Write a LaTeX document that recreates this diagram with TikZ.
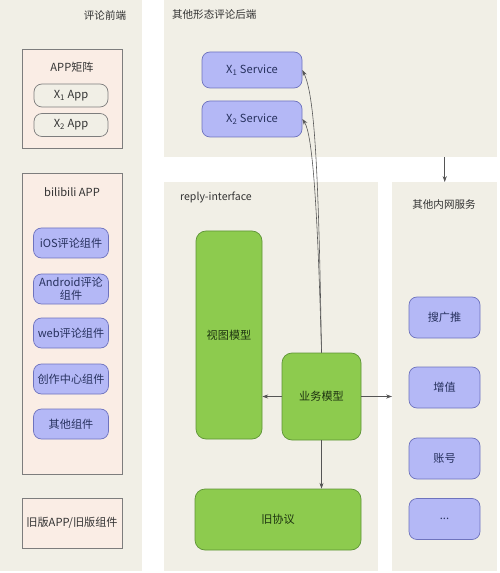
\documentclass[tikz,border=0pt]{standalone}
\usepackage{fontspec}
\setmainfont{Noto Sans CJK SC}
\usetikzlibrary{arrows.meta}
\definecolor{PanelBg}{HTML}{F1EFE6}
\definecolor{PinkFill}{HTML}{FAEDE5}
\definecolor{GreyLine}{HTML}{7D7D7D}
\definecolor{BlueFill}{HTML}{B4B8F6}
\definecolor{BlueLine}{HTML}{6E73BE}
\definecolor{BlueText}{HTML}{27315E}
\definecolor{GreenFill}{HTML}{8DCB4E}
\definecolor{GreenLine}{HTML}{5E9436}
\definecolor{GreenText}{HTML}{1D3310}
\definecolor{InkGrey}{HTML}{333333}
\definecolor{LineGrey}{HTML}{555555}
\newlength\pxu
\setlength\pxu{0.03cm}

\begin{document}
\begin{tikzpicture}[
  x=0.03cm, y=-0.03cm,
  every node/.style = {font=\fontsize{9.5}{11.5}\selectfont, text=InkGrey},
  panel/.style      = {rectangle, fill=PanelBg, anchor=north west, inner sep=0pt},
  groupbox/.style   = {rectangle, draw=GreyLine, fill=PinkFill, line width=0.6pt, minimum width=100\pxu},
  appbox/.style     = {rectangle, rounded corners=8\pxu, draw=GreyLine, fill=PanelBg, line width=0.6pt, minimum width=74\pxu, minimum height=23\pxu, inner sep=1pt},
  comp/.style       = {rectangle, rounded corners=8\pxu, draw=BlueLine, fill=BlueFill, text=BlueText, line width=0.6pt, minimum width=75\pxu, minimum height=30\pxu, inner sep=1pt, align=center},
  svc/.style        = {comp, minimum width=100\pxu, minimum height=36\pxu},
  netbox/.style     = {comp, minimum width=71\pxu, minimum height=41\pxu},
  model/.style      = {rectangle, rounded corners=10\pxu, draw=GreenLine, fill=GreenFill, text=GreenText, line width=0.6pt},
  title/.style      = {font=\fontsize{9}{11}\selectfont},
  arr/.style        = {-{Stealth[length=5pt,width=3.5pt]}, draw=LineGrey, line width=0.5pt}
]
\useasboundingbox (0,0) rectangle (499,573);

% Panels
\node[panel, minimum width=142\pxu, minimum height=571\pxu] (front) at (0,0) {};
\node[panel, minimum width=333\pxu, minimum height=157\pxu] (backend) at (164,0) {};
\node[panel, minimum width=214\pxu, minimum height=389\pxu] (reply) at (164,182) {};
\node[panel, minimum width=105\pxu, minimum height=389\pxu] (intranet) at (392,182) {};

% Panel titles
\node[title] (frontT) at (105,15) {评论前端};
\node[title, anchor=west] (backendT) at (168,15) {其他形态评论后端};
\node[title, anchor=west] (replyT) at (176,197) {reply-interface};
\node[title] (intranetT) at (444,204) {其他内网服务};

% APP matrix
\node[groupbox, minimum height=99\pxu] (appmat) at (72,98.5) {};
\node (appmatT) at (72,67) {APP矩阵};
\node[appbox] (x1app) at (71,95.5) {X\textsubscript{1} App};
\node[appbox] (x2app) at (71,125) {X\textsubscript{2} App};

% bilibili APP and its components
\node[groupbox, minimum height=301\pxu] (bili) at (72,323.5) {};
\node (biliT) at (72,192) {bilibili APP};
\foreach \nm/\y/\lbl in {ios/243/iOS评论组件, android/289/{Android评论\\组件},
                         web/333/web评论组件, create/379/创作中心组件, misc/424/其他组件}
  \node[comp] (\nm) at (71,\y) {\lbl};

% Old app
\node[groupbox, minimum height=50\pxu] (oldapp) at (72,523) {旧版APP/旧版组件};

% Other backends
\node[svc] (x1svc) at (252,70) {X\textsubscript{1} Service};
\node[svc] (x2svc) at (252,119) {X\textsubscript{2} Service};

% reply-interface models
\node[model, minimum width=66\pxu, minimum height=208\pxu] (view) at (229,335) {视图模型};
\node[model, minimum width=79\pxu, minimum height=87\pxu] (biz) at (321.5,396.5) {业务模型};
\node[model, minimum width=166\pxu, minimum height=61\pxu] (oldproto) at (278,519.5) {旧协议};

% Intranet services
\foreach \nm/\y/\lbl in {search/317.5/搜广推, vas/387.5/增值, account/458.5/账号}
  \node[netbox] (\nm) at (444.5,\y) {\lbl};
\node[netbox] (more) at (444.5,519) {...};

% Connectors
\draw[arr] (biz.west) -- (view.east |- biz.west);
\draw[arr] (biz.east) -- (intranet.west |- biz.east);
\draw[arr] (biz.south) -- (biz.south |- oldproto.north);
\draw[arr] (biz.north) .. controls +(-3,-190) and +(12,25) .. (x1svc.east);
\draw[arr] (biz.north) .. controls +(-4,-150) and +(10,15) .. (x2svc.east);
\draw[arr] (backend.south -| intranet.north) -- (intranet.north);
\end{tikzpicture}
\end{document}
